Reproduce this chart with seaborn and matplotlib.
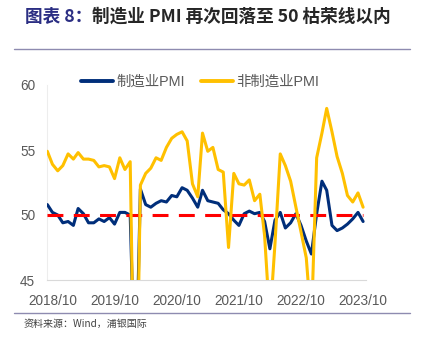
import numpy as np
import pandas as pd
import matplotlib
matplotlib.use("Agg")
import matplotlib.pyplot as plt
import seaborn as sns

# ---- data ----
months = pd.date_range("2018-09-01", periods=62, freq="MS")
mfg_pmi = [50.8, 50.2, 50.0, 49.4,
           49.5, 49.2, 50.5, 50.1, 49.4, 49.4, 49.7, 49.5, 49.8, 49.3, 50.2, 50.2,
           50.0, 35.7, 52.0, 50.8, 50.6, 50.9, 51.1, 51.0, 51.5, 51.4, 52.1, 51.9,
           51.3, 50.6, 51.9, 51.1, 51.0, 50.9, 50.4, 50.1, 49.6, 49.2, 50.1, 50.3,
           50.1, 50.2, 49.5, 47.4, 49.6, 50.2, 49.0, 49.4, 50.1, 49.2, 48.0, 47.0,
           50.1, 52.6, 51.9, 49.2, 48.8, 49.0, 49.3, 49.7, 50.2, 49.5]
nonmfg_pmi = [54.9, 53.9, 53.4, 53.8,
              54.7, 54.3, 54.8, 54.3, 54.3, 54.2, 53.7, 53.8, 53.7, 52.8, 54.4, 53.5,
              54.1, 29.6, 52.3, 53.2, 53.6, 54.4, 54.2, 55.2, 55.9, 56.2, 56.4, 55.7,
              52.4, 51.4, 56.3, 54.9, 55.2, 53.5, 53.3, 47.5, 53.2, 52.4, 52.3, 52.7,
              51.1, 51.6, 48.4, 41.9, 47.8, 54.7, 53.8, 52.6, 50.6, 48.7, 46.7, 41.6,
              54.4, 56.3, 58.2, 56.4, 54.5, 53.2, 51.5, 51.0, 51.7, 50.6]
threshold = [50.0] * 62
series_names = ["制造业PMI", "非制造业PMI"]
tick_labels = ["2018/10", "2019/10", "2020/10", "2021/10", "2022/10", "2023/10"]
y_ticks = [45, 50, 55, 60]

df = pd.DataFrame({"month": months, "制造业PMI": mfg_pmi,
                   "非制造业PMI": nonmfg_pmi, "荣枯线": threshold})

sns.set_theme(style="white")
plt.rcParams["font.family"] = ["Liberation Sans", "Noto Sans CJK SC", "DejaVu Sans"]

W, H = 421, 344
fig = plt.figure(figsize=(W / 100, H / 100), dpi=100)
ax = fig.add_axes([47 / W, 1 - 280 / H, (366 - 47) / W, (280 - 85) / H])

blue = "#002E7A"
yellow = "#FFC000"
red = "#FF0000"

sns.lineplot(data=df, x="month", y="制造业PMI", ax=ax, color=blue, lw=2.2,
             label=series_names[0], zorder=3)
sns.lineplot(data=df, x="month", y="荣枯线", ax=ax, color=red, lw=2.2,
             zorder=4, label="_nolegend_")
ax.lines[-1].set_dashes((5.2, 3.4))
ax.lines[-1].set_dash_capstyle("butt")
sns.lineplot(data=df, x="month", y="非制造业PMI", ax=ax, color=yellow, lw=2.2,
             label=series_names[1], zorder=5)

ax.set_ylim(45, 60)
ax.set_yticks(y_ticks)
tick_pos = [months[1 + 12 * i] for i in range(len(tick_labels))]
ax.set_xticks(tick_pos)
ax.set_xticklabels(tick_labels)
ax.set_xlim(months[0] - pd.Timedelta(days=2), months[-1] + pd.Timedelta(days=17))
ax.set_xlabel("")
ax.set_ylabel("")
ax.tick_params(axis="x", length=0, pad=10, labelsize=9.8, colors="#595959")
ax.tick_params(axis="y", length=0, pad=8.5, labelsize=9.8, colors="#595959")
for s in ["top", "right"]:
    ax.spines[s].set_visible(False)
ax.spines["left"].set_color("#EDEDED")
ax.spines["left"].set_linewidth(0.8)
ax.spines["bottom"].set_color("#D9D9D9")
ax.spines["bottom"].set_linewidth(0.8)
ax.grid(False)

leg = ax.legend(loc="center", bbox_to_anchor=(200 / W, 1 - 82 / H),
                bbox_transform=fig.transFigure, ncol=2, frameon=False,
                fontsize=10.4, handlelength=2.2, handletextpad=0.25,
                columnspacing=1.1, labelcolor="#595959")
for h in leg.get_lines():
    h.set_linewidth(2.8)

# title
fs_title = 12.7
t1 = fig.text(25 / W, 1 - 17 / H, "图表 8：", fontsize=fs_title, fontweight="bold",
              color="#2B2E83", va="center", ha="left",
              family=["Noto Sans CJK SC"])
fig.canvas.draw()
bb = t1.get_window_extent(renderer=fig.canvas.get_renderer())
fig.text(bb.x1 / W, 1 - 17 / H, "制造业 PMI 再次回落至 50 枯荣线以内", fontsize=fs_title,
         fontweight="bold", color="#262626", va="center", ha="left",
         family=["Noto Sans CJK SC"])

# separator lines
sep = "#8E8BB0"
fig.add_artist(plt.Line2D([14 / W, 410 / W], [1 - 49 / H, 1 - 49 / H],
                          transform=fig.transFigure, color=sep, lw=1.0))
fig.add_artist(plt.Line2D([14 / W, 410 / W], [1 - 313 / H, 1 - 313 / H],
                          transform=fig.transFigure, color=sep, lw=1.0))

fig.text(24 / W, 1 - 324 / H, "资料来源：Wind，浦银国际", fontsize=7.2,
         color="#404040", va="center", ha="left",
         family=["Noto Sans CJK SC"])

fig.savefig("out.png", dpi=100)
